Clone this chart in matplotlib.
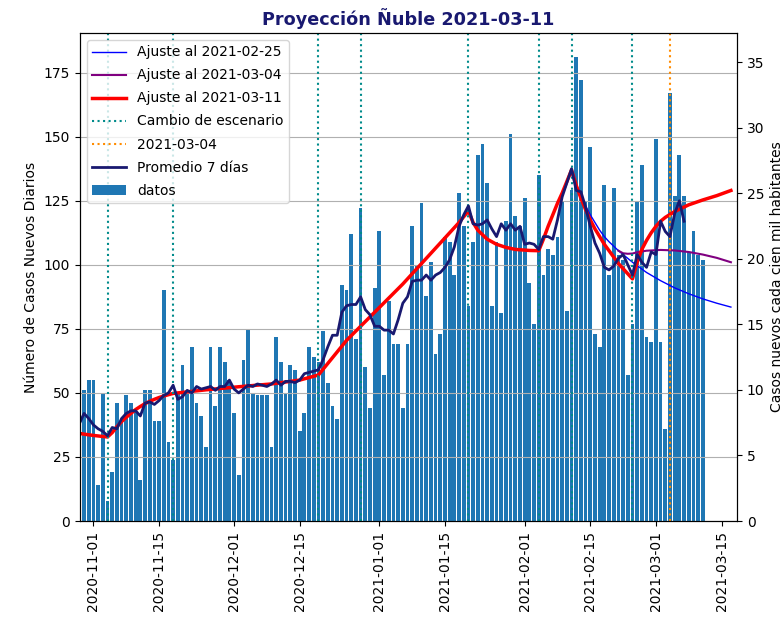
import matplotlib
matplotlib.use('Agg')
import matplotlib.pyplot as plt
import matplotlib.dates as mdates
import pandas as pd

# casos diarios desde 2020-10-30
casos = [51, 55, 55, 14, 50, 8, 19, 46, 40, 49, 46, 43, 16, 51, 51, 39, 39, 90, 31, 24,
         50, 61, 50, 68, 46, 41, 29, 68, 45, 68, 62, 55, 42, 18, 63, 75, 50, 49, 49, 49,
         29, 72, 62, 50, 61, 59, 35, 42, 68, 64, 62, 74, 54, 45, 40, 92, 90, 112, 71, 122,
         60, 44, 91, 113, 57, 86, 69, 69, 44, 69, 115, 100, 124, 88, 101, 65, 73, 111, 109, 96,
         128, 115, 84, 109, 143, 147, 132, 84, 109, 81, 117, 151, 119, 115, 126, 93, 77, 135, 96, 106,
         104, 111, 125, 82, 129, 181, 172, 125, 146, 73, 68, 131, 96, 130, 104, 102, 57, 77, 125, 139,
         72, 70, 149, 70, 36, 167, 127, 143, 127, 105, 113, 104, 102]
fechas = pd.date_range('2020-10-30', periods=len(casos), freq='D')

# promedio 7 dias desde 2020-10-29
promedio7 = [38, 42, 40, 37.5, 36, 35, 33.3, 36.5, 36, 40, 42, 43, 43, 41, 46, 46.5, 45.5, 47, 49, 50,
             53, 47.5, 48.5, 51, 50, 52.5, 51.5, 52, 52.5, 51, 52.5, 52.5, 55, 51.5, 50, 51.5, 53, 52.5,
             53.5, 53, 52.5, 53.5, 55, 53, 54.5, 54.5, 54, 55, 57.5, 58, 58.5, 59, 63, 68, 72.5, 72.5,
             81.5, 84, 84.5, 84.5, 87.5, 82.5, 80.5, 76, 76, 74.5, 74.5, 73, 78.5, 85, 87.5, 93.5, 94,
             94, 96, 94, 96, 97, 99, 102, 107, 115, 119.5, 123, 116, 115.5, 116, 117.5, 114, 111, 116,
             113.5, 116, 113.5, 115, 108, 108.5, 108, 106, 111, 111, 110, 117.5, 126.5, 132, 137.5, 129,
             128.5, 122.5, 115, 108.5, 104.5, 99, 98, 99.5, 102.5, 104, 100, 96, 104, 101, 99, 105, 104,
             117, 113, 111, 120, 125, 117]
fechas_prom = pd.date_range('2020-10-29', periods=len(promedio7), freq='D')

# ajustes: dias desde 2020-11-01
origen = pd.Timestamp('2020-11-01')
dias_0311 = [-3, -2, 0, 3, 4, 5, 6, 7, 8, 9, 10, 11, 12, 13, 14, 15, 16, 17, 24, 31, 38, 44, 48,
             50, 52, 54, 57, 60, 63, 66, 69, 72, 75, 78, 80, 81, 82, 84, 86, 88, 90, 93, 95,
             96, 97, 98, 99, 100, 101, 102, 103, 104, 105, 106, 107, 108, 109, 110, 111, 112, 113, 114, 115,
             116, 117, 118, 119, 120, 121, 122, 124, 127, 130, 133, 136]
ajuste_0311 = [34.2, 33.9, 33.4, 32.8, 34.5, 36.8, 38.8, 40.5, 42, 43.5, 44.7, 45.8, 46.7, 47.5, 48.2, 48.8,
               49.3, 49.8, 51.2, 52.4, 53.5, 55, 57, 61.5, 66, 70.5, 76, 81.5, 87, 92.5, 98.5, 104.5, 110.5,
               116.5, 121, 116.5, 113.5, 110, 108, 106.8, 106, 105.6, 105.5, 110, 115, 119.5, 124, 128,
               132.5, 137, 131, 126, 121.5, 117.5, 114, 111, 108, 105.5, 103, 100.5, 98.5, 96.5, 94.5,
               101, 106, 109.5, 112.5, 115, 117, 118.5, 120.8, 123.4, 125.3, 127, 129]
dias_0225 = [102, 103, 104, 105, 106, 107, 108, 109, 110, 112, 115, 118, 121, 124, 127, 130, 133, 136]
ajuste_0225 = [137, 131.5, 127, 123, 119.5, 116.5, 113.5, 111, 109, 105.5, 101, 97, 93.8, 91, 88.7,
               86.7, 85, 83.5]
dias_0304 = [112, 113, 114, 115, 116, 118, 121, 124, 127, 130, 133, 136]
ajuste_0304 = [105.5, 104.5, 104.3, 104.4, 104.9, 105.5, 105.8, 105.6, 105, 104, 102.7, 101]

cambios = ['2020-11-04', '2020-11-18', '2020-12-19', '2020-12-28',
           '2021-01-20', '2021-02-04', '2021-02-11', '2021-02-24']
fecha_ajuste = '2021-03-04'
poblacion = 511551


def a_fechas(dias):
    return origen + pd.to_timedelta(dias, unit='D')


fig, ax = plt.subplots(figsize=(7.84, 6.21), dpi=100)
fig.subplots_adjust(left=0.102, right=0.940, top=0.947, bottom=0.161)

ax.plot(a_fechas(dias_0225), ajuste_0225, color='blue', lw=1, label='Ajuste al 2021-02-25')
ax.plot(a_fechas(dias_0304), ajuste_0304, color='purple', lw=1.5, label='Ajuste al 2021-03-04')
ax.plot(a_fechas(dias_0311), ajuste_0311, color='red', lw=2.5, label='Ajuste al 2021-03-11')
for i, c in enumerate(cambios):
    ax.axvline(pd.Timestamp(c), color='darkcyan', ls=':', lw=1.5,
               label='Cambio de escenario' if i == 0 else None)
ax.axvline(pd.Timestamp(fecha_ajuste), color='darkorange', ls=':', lw=1.5, label=fecha_ajuste)
ax.plot(fechas_prom, promedio7, color='midnightblue', lw=2, label='Promedio 7 días')
ax.bar(fechas, casos, width=0.8, color='tab:blue', label='datos')

ax.set_xlim(pd.Timestamp('2020-10-29 03:00'), pd.Timestamp('2021-03-18 07:00'))
ax.set_ylim(0, 190.5)
ax.xaxis.set_major_locator(mdates.DayLocator(bymonthday=[1, 15]))
ax.xaxis.set_major_formatter(mdates.DateFormatter('%Y-%m-%d'))
plt.setp(ax.get_xticklabels(), rotation=90)
ax.grid(axis='y')
ax.set_ylabel('Número de Casos Nuevos Diarios')
ax.set_title('Proyección Ñuble 2021-03-11', fontweight='bold', color='midnightblue', fontsize=12.7)
ax.legend(loc='upper left', labelspacing=0.65, handlelength=2.4)

ax2 = ax.twinx()
ax2.set_ylim(0, 190.5 * 100000 / poblacion)
ax2.set_ylabel('Casos nuevos cada cien mil habitantes')

fig.savefig('out.png', dpi=100)
